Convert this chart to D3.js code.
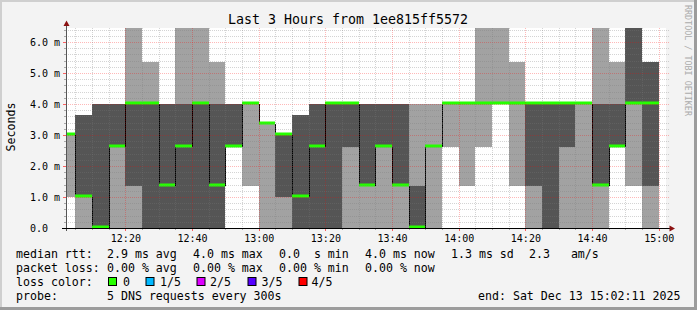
<!DOCTYPE html>
<html><head><meta charset="utf-8">
<script src="https://cdn.jsdelivr.net/npm/d3@7"></script>
<style>
html,body{margin:0;padding:0;background:#f3f3f3;}
svg{display:block;}
text{font-family:"DejaVu Sans Mono",monospace;white-space:pre;}
</style>
</head><body>
<svg id="c" width="697" height="310"></svg>
<script>
// ---------- DATA ----------
const stepStarts = ["12:00","12:05","12:10","12:15","12:20","12:25","12:30","12:35","12:40","12:45","12:50","12:55",
  "13:00","13:05","13:10","13:15","13:20","13:25","13:30","13:35","13:40","13:45","13:50","13:55",
  "14:00","14:05","14:10","14:15","14:20","14:25","14:30","14:35","14:40","14:45","14:50","14:55"];
// sorted ping values per step (ms)
const ping1 = [1.0,0,0,0,0,0,0,0,0,0,2.6,1.36, 0,0,0,0,0,0,0,0,0,0,0,2.6, 1.36,2.6,4.0,1.36,0,0,0,0,0,2.6,1.36,0];
const ping2 = [3.0,1.0,0,2.6,1.36,0,0,0,0,0,2.6,4.0, 3.34,1.0,0,0,0,2.6,1.36,2.6,1.36,0,2.6,4.0, 4.0,4.0,4.0,4.0,1.36,0,2.6,4.0,1.36,2.6,4.0,1.36];
const median = [3.0,1.0,0,2.6,4.0,4.0,1.36,2.6,4.0,1.36,2.6,4.0, 3.34,3.0,1.0,2.6,4.0,4.0,1.36,2.6,1.36,0,2.6,4.0, 4.0,4.0,4.0,4.0,4.0,4.0,4.0,4.0,1.36,2.6,4.0,4.0];
const ping4 = [3.0,3.66,4.0,4.0,4.0,4.0,4.0,4.0,4.0,4.0,4.0,4.0, 3.34,3.0,3.66,4.0,4.0,4.0,4.0,4.0,4.0,1.36,2.6,4.0, 4.0,4.0,4.0,4.0,4.0,4.0,4.0,4.0,4.0,4.0,6.6,5.36];
const ping5 = [3.0,3.66,4.0,4.0,6.6,5.36,4.0,6.6,6.6,5.36,4.0,4.0, 3.34,3.0,3.66,4.0,4.0,4.0,4.0,4.0,4.0,4.0,4.0,4.0, 4.0,6.6,6.6,5.36,4.0,4.0,4.0,4.0,6.6,5.36,6.6,5.36];
const yTicks = [0,1,2,3,4,5,6];
const yTickLabels = ["0.0","1.0 m","2.0 m","3.0 m","4.0 m","5.0 m","6.0 m"];
const lossLabels = ["0","1/5","2/5","3/5","4/5"];
const lossColors = ["#26ff00","#00b8ff","#dd00ff","#5500ff","#ff0000"];

const svg = d3.select("#c");
const W = 697, H = 310;
const L = 66, R = 666, T = 28, B = 228;

const parseT = s => { const [h,m] = s.split(":").map(Number); return new Date(2025,11,13,h,m,0); };
const t0 = new Date(2025,11,13,12,2,11), t1 = new Date(2025,11,13,15,2,11);
const x = d3.scaleTime().domain([t0,t1]).range([L,R]);
const y = d3.scaleLinear().domain([0,200/31]).range([B,T]);

// background & frame
svg.append("rect").attr("width",W).attr("height",H).attr("fill","#f3f3f3");
svg.append("rect").attr("x",0).attr("y",0).attr("width",W).attr("height",2).attr("fill","#cfcfcf");
svg.append("rect").attr("x",0).attr("y",0).attr("width",2).attr("height",H).attr("fill","#cfcfcf");
svg.append("rect").attr("x",W-3).attr("y",0).attr("width",3).attr("height",H).attr("fill","#9c9c9c");
svg.append("rect").attr("x",0).attr("y",H-3).attr("width",W).attr("height",3).attr("fill","#9c9c9c");

svg.append("rect").attr("x",L).attr("y",T).attr("width",R-L).attr("height",B-T).attr("fill","#fff");
svg.append("clipPath").attr("id","clip").append("rect").attr("x",L).attr("y",T).attr("width",R-L).attr("height",B-T);

const steps = stepStarts.map((s,i)=>{
  const a = parseT(s); const b = new Date(+a + 5*60000);
  return {x0: Math.max(L, Math.round(x(a))), x1: Math.round(x(b)), p1:ping1[i], p2:ping2[i], p3:median[i], p4:ping4[i], p5:ping5[i]};
});

const g = svg.append("g").attr("clip-path","url(#clip)");
g.selectAll("rect.light").data(steps).join("rect")
  .attr("x",d=>d.x0).attr("width",d=>d.x1-d.x0)
  .attr("y",d=>Math.round(y(d.p5))).attr("height",d=>Math.round(y(d.p1))-Math.round(y(d.p5)))
  .attr("fill","#a2a2a2");
g.selectAll("rect.dark").data(steps).join("rect")
  .attr("x",d=>d.x0).attr("width",d=>d.x1-d.x0)
  .attr("y",d=>Math.round(y(d.p4))).attr("height",d=>Math.round(y(d.p2))-Math.round(y(d.p4)))
  .attr("fill","#555555");
// median connectors
g.selectAll("line.conn").data(steps.slice(1).map((d,i)=>({x:d.x0, a:steps[i].p3, b:d.p3}))).join("line")
  .attr("x1",d=>d.x+0.5).attr("x2",d=>d.x+0.5)
  .attr("y1",d=>Math.round(y(d.a))).attr("y2",d=>Math.round(y(d.b)))
  .attr("stroke","#000").attr("stroke-width",1);
// median (loss color 0)
g.selectAll("rect.med").data(steps).join("rect")
  .attr("x",d=>d.x0).attr("width",d=>d.x1-d.x0)
  .attr("y",d=>Math.round(y(d.p3))-2.5).attr("height",3)
  .attr("fill",lossColors[0]);

// grid
const minorCol = "rgba(120,120,120,0.32)", majorCol = "rgba(255,0,0,0.28)";
const grid = svg.append("g");
const minorY = d3.range(0,33).map(i=>i*0.2).filter(v=>Math.abs(v-Math.round(v))>1e-6 && y(v)>=T);
grid.selectAll("line.my").data(minorY).join("line")
  .attr("x1",L).attr("x2",R+3).attr("y1",d=>Math.round(y(d))+0.5).attr("y2",d=>Math.round(y(d))+0.5)
  .attr("stroke",minorCol).attr("stroke-dasharray","1,1");
grid.selectAll("line.My").data(yTicks.slice(1)).join("line")
  .attr("x1",L).attr("x2",R+3).attr("y1",d=>Math.round(y(d))+0.5).attr("y2",d=>Math.round(y(d))+0.5)
  .attr("stroke",majorCol).attr("stroke-dasharray","1,1");
const fiveMin = d3.timeMinute.every(5).range(t0,t1);
const minorX = fiveMin.filter(d=>d.getMinutes()%20!==0);
const majorX = fiveMin.filter(d=>d.getMinutes()%20===0);
grid.selectAll("line.mx").data(minorX).join("line")
  .attr("x1",d=>Math.round(x(d))+0.5).attr("x2",d=>Math.round(x(d))+0.5).attr("y1",T).attr("y2",B)
  .attr("stroke",minorCol).attr("stroke-dasharray","1,1");
grid.selectAll("line.Mx").data(majorX).join("line")
  .attr("x1",d=>Math.round(x(d))+0.5).attr("x2",d=>Math.round(x(d))+0.5).attr("y1",T).attr("y2",B)
  .attr("stroke",majorCol).attr("stroke-dasharray","1,1");

// tick marks
grid.selectAll("line.tmx").data(fiveMin).join("line")
  .attr("x1",d=>Math.round(x(d))+0.5).attr("x2",d=>Math.round(x(d))+0.5)
  .attr("y1",B).attr("y2",d=>d.getMinutes()%20===0?B+3:B+2)
  .attr("stroke",d=>d.getMinutes()%20===0?"rgba(255,0,0,0.6)":"rgba(120,120,120,0.6)");
grid.selectAll("line.tmy").data(d3.range(0,33).map(i=>i*0.2).filter(v=>y(v)>=T)).join("line")
  .attr("y1",d=>Math.round(y(d))+0.5).attr("y2",d=>Math.round(y(d))+0.5)
  .attr("x1",d=>Math.abs(d-Math.round(d))<1e-6?L-3:L-2).attr("x2",L)
  .attr("stroke",d=>Math.abs(d-Math.round(d))<1e-6?"rgba(255,0,0,0.6)":"rgba(120,120,120,0.6)");

// axes
svg.append("line").attr("x1",L+0.5).attr("x2",L+0.5).attr("y1",B+3).attr("y2",24).attr("stroke","#555");
svg.append("line").attr("x1",62).attr("x2",671).attr("y1",B+0.5).attr("y2",B+0.5).attr("stroke","#000");
svg.append("path").attr("d",`M${L+0.5},20.5 L${L+3.5},26 L${L-2.5},26 Z`).attr("fill","#8b1111");
svg.append("path").attr("d",`M675,${B+0.5} L669.5,${B-2.5} L669.5,${B+3.5} Z`).attr("fill","#8b1111");

// tick labels
svg.selectAll("text.yl").data(yTicks).join("text")
  .attr("x",30).attr("y",d=>y(d)+3.6).attr("font-size","10px").attr("fill","#000")
  .text((d,i)=>yTickLabels[i]);
svg.selectAll("text.xl").data(majorX).join("text")
  .attr("x",d=>x(d)+0.5).attr("y",242).attr("text-anchor","middle").attr("font-size","10px").attr("fill","#000")
  .text(d3.timeFormat("%H:%M"));

// title
svg.append("text").attr("x",348).attr("y",23.5).attr("text-anchor","middle").attr("font-size","13.3px").attr("fill","#000")
  .text("Last 3 Hours from 1ee815ff5572");
// y label
svg.append("text").attr("transform","translate(15,127) rotate(-90)").attr("text-anchor","middle")
  .attr("font-size","11.6px").attr("fill","#000").text("Seconds");
// watermark
svg.append("text").attr("transform","translate(684.5,5) rotate(90)").attr("font-size","8.4px").attr("fill","#ababab")
  .text("RRDTOOL / TOBI OETIKER");

// legend
const legendRows = [
  [[16,"median rtt:"],[107,"2.9 ms avg"],[193,"4.0 ms max"],[279,"0.0  s min"],[365,"4.0 ms now"],[451,"1.3 ms sd"],[529,"2.3   am/s"]],
  [[16,"packet loss:"],[107,"0.00 % avg"],[193,"0.00 % max"],[279,"0.00 % min"],[365,"0.00 % now"]],
  [[16,"loss color:"]],
  [[16,"probe:"],[107,"5 DNS requests every 300s"],[478,"end: Sat Dec 13 15:02:11 2025"]]
];
legendRows.forEach((row,r)=>{
  row.forEach(([lx,t])=>{
    svg.append("text").attr("x",lx).attr("y",258+14*r).attr("font-size","11.6px").attr("fill","#000").text(t);
  });
});
const swX = [108,145.5,196.5,247.5,298.5];
const txX = [123,160,210,261.5,311.5];
lossLabels.forEach((l,i)=>{
  svg.append("rect").attr("x",swX[i]+0.5).attr("y",277.5).attr("width",8).attr("height",8)
    .attr("fill",lossColors[i]).attr("stroke","#000").attr("stroke-width",1);
  svg.append("text").attr("x",txX[i]).attr("y",286).attr("font-size","11.6px").attr("fill","#000").text(l);
});
</script>
</body></html>
